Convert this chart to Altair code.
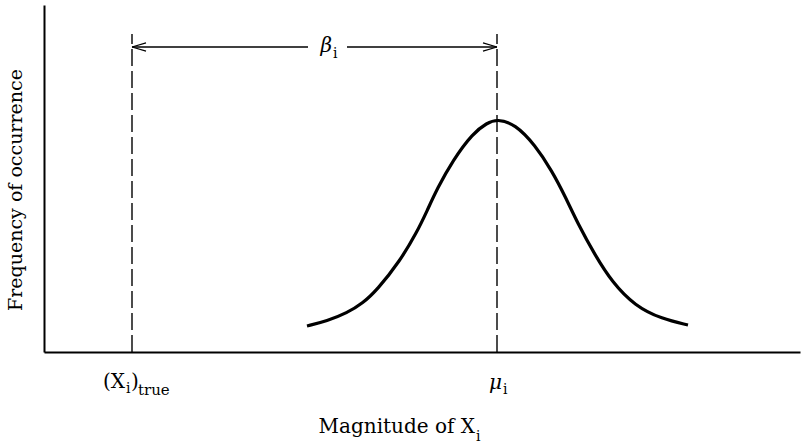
import altair as alt
import pandas as pd

# Magnitude / frequency readings along the distribution curve
magnitude = [263, 283, 303, 319, 333, 356, 373, 383, 393, 409, 429, 443, 453,
             471, 491, 508, 521, 534, 551, 568, 591, 618, 644]
frequency = [26, 31, 39, 49, 62, 91, 120, 141, 163, 192, 219, 229, 233,
             228, 207, 181, 156, 128, 97, 70, 46, 33, 27]

x_true = 88        # true value of X_i
mu = 453           # mean of the measured distribution
marker_top = 318   # height reached by the dashed markers
arrow_level = 305  # height of the bias arrow
gap = [264, 303]   # break in the arrow that holds the beta label

SERIF = "DejaVu Serif"
X_DOMAIN = [0, 756]
Y_DOMAIN = [0, 347]

xs = alt.Scale(domain=X_DOMAIN, nice=False, zero=False)
ys = alt.Scale(domain=Y_DOMAIN, nice=False, zero=False)

# plain black axis lines, no ticks or labels
AX = alt.Axis(domain=True, domainColor="black", domainWidth=2, ticks=False,
              labels=False, grid=False, title=None)

curve_df = pd.DataFrame({"m": magnitude, "f": frequency})

curve = alt.Chart(curve_df).mark_line(
    color="black", strokeWidth=3.2, interpolate="basis"
).encode(
    x=alt.X("m:Q", scale=xs, axis=AX),
    y=alt.Y("f:Q", scale=ys, axis=AX),
)

markers_df = pd.DataFrame({"at": [x_true, mu], "lo": [0, 0],
                           "hi": [marker_top, marker_top]})
markers = alt.Chart(markers_df).mark_rule(
    color="black", strokeWidth=1.4, strokeDash=[17, 5]
).encode(
    x=alt.X("at:Q", scale=xs, axis=AX),
    y=alt.Y("lo:Q", scale=ys, axis=AX),
    y2="hi:Q",
)

arrow_df = pd.DataFrame({"a": [x_true, gap[1]], "b": [gap[0], mu],
                         "lvl": [arrow_level, arrow_level]})
arrow = alt.Chart(arrow_df).mark_rule(color="black", strokeWidth=1.3).encode(
    x=alt.X("a:Q", scale=xs, axis=AX),
    x2="b:Q",
    y=alt.Y("lvl:Q", scale=ys, axis=AX),
)


def head(at, path):
    df = pd.DataFrame({"at": [at], "lvl": [arrow_level]})
    return alt.Chart(df).mark_point(
        shape=path, size=196, filled=False, color="black",
        strokeWidth=1.3, opacity=1
    ).encode(
        x=alt.X("at:Q", scale=xs, axis=AX),
        y=alt.Y("lvl:Q", scale=ys, axis=AX),
    )


left_head = head(x_true, "M 0 0 L 2 -0.6 M 0 0 L 2 0.6")
right_head = head(mu, "M 0 0 L -2 -0.6 M 0 0 L -2 0.6")


def label(text, at, dx, y, size, align, italic=False):
    df = pd.DataFrame({"at": [at], "t": [text]})
    return alt.Chart(df).mark_text(
        align=align, baseline="alphabetic", dx=dx, font=SERIF,
        fontSize=size, fontStyle="italic" if italic else "normal",
        color="black"
    ).encode(
        x=alt.X("at:Q", scale=xs, axis=AX),
        y=alt.value(y),
        text="t:N",
    )


def free_text(text, x, y, size, align, angle=0):
    df = pd.DataFrame({"t": [text]})
    return alt.Chart(df).mark_text(
        align=align, baseline="alphabetic", font=SERIF, fontSize=size,
        angle=angle, color="black"
    ).encode(x=alt.value(x), y=alt.value(y), text="t:N")


labels = [
    # (X_i)_true under the true-value marker
    label("(X", x_true, -7, 383, 20, "right"),
    label("i", x_true, -6, 388, 14, "left"),
    label(")", x_true, -1, 383, 20, "left"),
    label("true", x_true, 6, 390, 15, "left"),
    # mu_i under the mean marker
    label("\u03bc", mu, 5, 384, 20, "right", italic=True),
    label("i", mu, 6, 389, 14, "left"),
    # beta_i in the arrow gap
    label("\u03b2", gap[0] + 24, 0, 47, 20, "right", italic=True),
    label("i", gap[0] + 25, 0, 53, 14, "left"),
    # axis titles
    free_text("Magnitude of X", 431, 428, 20, "right"),
    free_text("i", 432, 436, 14, "left"),
    free_text("Frequency of occurrence", -22, 185, 19, "center", angle=270),
]

chart = alt.layer(
    curve, markers, arrow, left_head, right_head, *labels
).properties(
    width=756,
    height=347,
    padding={"left": 44, "top": 5, "right": 4, "bottom": 95},
    autosize=alt.AutoSizeParams(type="none"),
    background="white",
).configure_view(stroke=None)

chart.save("out.html", embed_options={"renderer": "svg", "actions": False})
